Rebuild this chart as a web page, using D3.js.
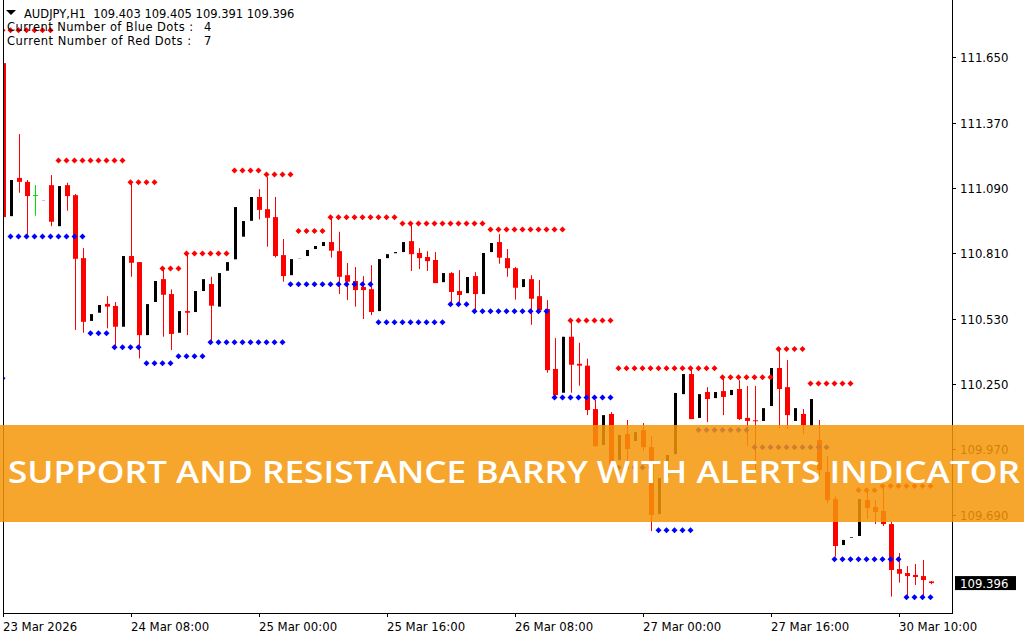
<!DOCTYPE html>
<html>
<head>
<meta charset="utf-8">
<script src="https://cdnjs.cloudflare.com/ajax/libs/d3/7.8.5/d3.min.js"></script>
<style>
  body { margin: 0; background: #fff; }
  svg  { display: block; }
  text { font-family: "DejaVu Sans Condensed", "DejaVu Sans", sans-serif; white-space: pre; }
  .info { font-family: "DejaVu Sans", sans-serif; font-size: 11.5px; }
</style>
</head>
<body>
<svg id="chart" width="1024" height="640"></svg>
<script>
// AUDJPY H1 candles
var symbol = "AUDJPY,H1";

var opens = [111.625,110.969,111.133,111.116,111.058,111.036,111.102,110.926,111.102,111.059,
  110.789,110.520,110.555,110.593,110.584,110.495,110.798,110.772,110.459,110.601,
  110.699,110.635,110.469,110.562,110.558,110.648,110.678,110.581,110.735,110.784,
  110.881,110.949,111.051,110.999,110.965,110.802,110.716,110.786,110.798,110.828,
  110.841,110.858,110.819,110.716,110.691,110.665,110.656,110.562,110.789,110.810,
  110.815,110.862,110.811,110.794,110.781,110.686,110.725,110.648,110.639,110.712,
  110.635,110.815,110.858,110.789,110.746,110.665,110.699,110.626,110.571,110.314,
  110.212,110.452,110.336,110.328,110.142,109.988,110.121,109.923,110.035,110.005,
  110.052,109.979,109.692,109.851,109.949,110.206,110.292,110.104,110.215,110.189,
  110.219,110.202,110.228,110.104,110.094,110.091,110.155,110.318,110.236,110.091,
  110.121,110.069,110.009,109.872,109.756,109.559,109.590,109.598,109.752,109.722,
  109.705,109.649,109.456,109.439,109.431,109.426,109.403];

var highs = [111.775,111.124,111.321,111.124,111.102,111.037,111.145,111.098,111.112,111.064,
  110.832,110.549,110.588,110.626,110.601,110.798,111.116,110.772,110.592,110.691,
  110.741,110.655,110.562,110.809,110.648,110.699,110.709,110.725,110.772,111.008,
  110.948,111.051,111.085,111.138,111.051,110.871,110.785,110.787,110.824,110.841,
  110.858,110.966,110.902,110.768,110.751,110.712,110.759,110.785,110.806,110.815,
  110.858,110.931,110.832,110.819,110.815,110.725,110.729,110.738,110.708,110.729,
  110.811,110.854,110.892,110.828,110.751,110.699,110.716,110.695,110.609,110.446,
  110.452,110.516,110.426,110.358,110.181,110.116,110.129,110.031,110.095,110.043,
  110.082,110.026,109.846,109.945,110.211,110.292,110.315,110.206,110.236,110.215,
  110.271,110.224,110.266,110.241,110.241,110.146,110.318,110.395,110.352,110.146,
  110.142,110.185,110.095,109.941,109.769,109.581,109.593,109.756,109.795,109.752,
  109.809,109.658,109.525,109.469,109.478,109.495,109.405];

var lows = [110.952,110.969,111.069,110.888,110.971,111.036,110.926,110.926,110.992,110.481,
  110.469,110.520,110.555,110.488,110.399,110.495,110.709,110.359,110.459,110.601,
  110.452,110.395,110.469,110.459,110.558,110.648,110.431,110.581,110.735,110.784,
  110.881,110.949,110.955,110.838,110.792,110.688,110.716,110.786,110.798,110.828,
  110.841,110.791,110.635,110.609,110.581,110.528,110.545,110.562,110.789,110.810,
  110.815,110.734,110.742,110.734,110.682,110.686,110.596,110.596,110.639,110.566,
  110.635,110.815,110.765,110.709,110.611,110.665,110.503,110.554,110.298,110.195,
  110.212,110.212,110.242,110.116,109.980,109.988,109.895,109.923,109.920,110.005,
  109.963,109.619,109.692,109.851,109.949,110.206,110.099,110.104,110.086,110.189,
  110.116,110.202,110.095,109.983,109.881,110.091,110.155,110.061,110.058,110.091,
  110.035,110.069,109.852,109.738,109.509,109.559,109.590,109.598,109.671,109.649,
  109.641,109.338,109.398,109.338,109.388,109.338,109.391];

var closes = [110.965,111.124,111.116,111.055,111.058,111.037,110.945,111.098,111.055,110.786,
  110.516,110.549,110.588,110.581,110.495,110.798,110.769,110.459,110.592,110.691,
  110.632,110.464,110.562,110.555,110.648,110.699,110.585,110.725,110.772,111.008,
  110.948,111.051,110.996,110.962,110.798,110.712,110.785,110.787,110.824,110.841,
  110.858,110.821,110.709,110.688,110.652,110.652,110.558,110.785,110.806,110.815,
  110.858,110.806,110.789,110.776,110.682,110.725,110.644,110.631,110.708,110.635,
  110.811,110.854,110.791,110.746,110.662,110.699,110.615,110.566,110.309,110.202,
  110.452,110.332,110.328,110.138,109.983,110.116,109.902,110.031,109.971,110.043,
  109.979,109.688,109.846,109.945,110.211,110.292,110.099,110.206,110.185,110.215,
  110.194,110.224,110.099,110.091,110.091,110.146,110.318,110.228,110.116,110.146,
  110.073,110.185,109.881,109.752,109.555,109.581,109.593,109.756,109.718,109.701,
  109.649,109.452,109.436,109.426,109.422,109.409,109.396];

// indicator levels: [first bar, last bar, price]
var resistance = [[0,6,111.766],[7,15,111.208],[16,19,111.114],[20,22,110.745],[23,28,110.809],
  [29,32,111.165],[33,36,111.148],[37,40,110.905],[41,49,110.964],[50,60,110.938],
  [61,70,110.912],[71,76,110.522],[77,89,110.317],[90,96,110.278],[97,100,110.399],
  [101,106,110.252],[107,109,109.794],[110,116,109.812]];

var support = [[0,0,110.274],[1,10,110.882],[11,13,110.467],[14,17,110.407],[18,21,110.338],
  [22,25,110.368],[26,35,110.428],[36,46,110.677],[47,55,110.514],[56,58,110.591],
  [59,68,110.561],[69,76,110.192],[77,81,109.892],[82,86,109.623],[87,93,110.052],
  [94,103,109.978],[104,112,109.498],[113,116,109.335]];

var priceTicks = [111.650, 111.370, 111.090, 110.810, 110.530, 110.250, 109.970, 109.690];
var timeTicks  = [0, 16, 32, 48, 64, 80, 96, 112];
var timeLabels = ["23 Mar 2026", "24 Mar 08:00", "25 Mar 00:00", "25 Mar 16:00",
                  "26 Mar 08:00", "27 Mar 00:00", "27 Mar 16:00", "30 Mar 10:00"];

var bannerTitle = "SUPPORT AND RESISTANCE BARRY WITH ALERTS INDICATOR";

var svg = d3.select("#chart");
var frame = { left: 3, right: 952, bottom: 613 };

var x = d3.scaleLinear().domain([0, opens.length - 1]).range([3.5, 3.5 + 8 * (opens.length - 1)]);
var y = d3.scaleLinear().domain([111.65, 109.69]).range([57.3, 514.5]);

var bars = opens.map(function (o, i) {
  return { i: i, o: o, h: highs[i], l: lows[i], c: closes[i] };
});

svg.append("clipPath").attr("id", "plot-clip")
   .append("rect")
   .attr("x", frame.left).attr("y", 0)
   .attr("width", frame.right - frame.left).attr("height", frame.bottom);

var plot = svg.append("g").attr("clip-path", "url(#plot-clip)");

// bear candles: red body + red wick
var bears = bars.filter(function (d) { return d.c < d.o; });
plot.selectAll(".bear-wick").data(bears).enter().append("line")
    .attr("x1", function (d) { return x(d.i); })
    .attr("x2", function (d) { return x(d.i); })
    .attr("y1", function (d) { return y(d.h); })
    .attr("y2", function (d) { return y(d.l); })
    .attr("stroke", "#ff0000");
plot.selectAll(".bear-body").data(bears).enter().append("rect")
    .attr("x", function (d) { return x(d.i) - 2.5; })
    .attr("y", function (d) { return y(d.o); })
    .attr("width", 5)
    .attr("height", function (d) { return Math.max(1, y(d.c) - y(d.o)); })
    .attr("fill", "#ff0000");

// bull candles: only the black fill shows (outline and wicks are white)
var bulls = bars.filter(function (d) { return d.c > d.o; });
plot.selectAll(".bull-body").data(bulls).enter().append("rect")
    .attr("x", function (d) { return x(d.i) - 1.5; })
    .attr("y", function (d) { return y(d.c); })
    .attr("width", 3)
    .attr("height", function (d) { return y(d.o) - y(d.c); })
    .attr("fill", "#000");

// doji candles in green
var dojis = bars.filter(function (d) { return d.c === d.o; });
plot.selectAll(".doji-wick").data(dojis).enter().append("line")
    .attr("x1", function (d) { return x(d.i); })
    .attr("x2", function (d) { return x(d.i); })
    .attr("y1", function (d) { return y(d.h); })
    .attr("y2", function (d) { return y(d.l); })
    .attr("stroke", "#00e000");
plot.selectAll(".doji-bar").data(dojis).enter().append("line")
    .attr("x1", function (d) { return x(d.i) - 2.5; })
    .attr("x2", function (d) { return x(d.i) + 2.5; })
    .attr("y1", function (d) { return Math.round(y(d.o)) + 0.5; })
    .attr("y2", function (d) { return Math.round(y(d.o)) + 0.5; })
    .attr("stroke", "#00e000");

// expand level segments into one dot per bar
function levelDots(levels) {
  var dots = [];
  levels.forEach(function (lv) {
    for (var i = lv[0]; i <= lv[1]; i++) dots.push({ i: i, p: lv[2] });
  });
  return dots;
}

function drawDots(levels, colour) {
  plot.append("g").selectAll("path").data(levelDots(levels)).enter().append("path")
      .attr("d", "M0,-3L3,0L0,3L-3,0Z")
      .attr("transform", function (d) { return "translate(" + (x(d.i) - 1) + "," + y(d.p) + ")"; })
      .attr("fill", colour);
}
drawDots(resistance, "#ff0000");
drawDots(support, "#0000ff");

// frame
svg.append("line").attr("x1", frame.left + 0.5).attr("x2", frame.left + 0.5)
   .attr("y1", 0).attr("y2", frame.bottom + 0.5).attr("stroke", "#000");
svg.append("line").attr("x1", frame.right + 0.5).attr("x2", frame.right + 0.5)
   .attr("y1", 0).attr("y2", frame.bottom + 0.5).attr("stroke", "#000");
svg.append("line").attr("x1", frame.left).attr("x2", frame.right + 1)
   .attr("y1", frame.bottom + 0.5).attr("y2", frame.bottom + 0.5).attr("stroke", "#000");

// price axis on the right
var pAxis = svg.append("g");
pAxis.selectAll("line").data(priceTicks).enter().append("line")
     .attr("x1", frame.right + 1).attr("x2", frame.right + 4)
     .attr("y1", function (d) { return Math.round(y(d)) + 0.5; })
     .attr("y2", function (d) { return Math.round(y(d)) + 0.5; })
     .attr("stroke", "#000");
pAxis.selectAll("text").data(priceTicks).enter().append("text")
     .attr("x", 960)
     .attr("y", function (d) { return y(d) + 5; })
     .attr("font-size", 13)
     .attr("fill", "#000")
     .text(function (d) { return d.toFixed(3); });

// current price tag
var last = closes[closes.length - 1];
svg.append("rect").attr("x", 955).attr("y", y(last) - 7).attr("width", 61).attr("height", 14).attr("fill", "#000");
svg.append("text").attr("x", 960).attr("y", y(last) + 5)
   .attr("font-size", 13).attr("fill", "#fff").text(last.toFixed(3));

// time axis at the bottom
var tAxis = svg.append("g");
tAxis.selectAll("line").data(timeTicks).enter().append("line")
     .attr("x1", function (d) { return Math.floor(x(d)) + 0.5; })
     .attr("x2", function (d) { return Math.floor(x(d)) + 0.5; })
     .attr("y1", frame.bottom).attr("y2", frame.bottom + 4)
     .attr("stroke", "#000");
tAxis.selectAll("text").data(timeTicks).enter().append("text")
     .attr("x", function (d) { return Math.floor(x(d)); })
     .attr("y", 630.5)
     .attr("font-size", 13)
     .attr("fill", "#000")
     .text(function (d, i) { return timeLabels[i]; });

// header and indicator counters
svg.append("path").attr("d", "M6,10L16,10L11,15Z").attr("fill", "#000");
svg.append("text").attr("class", "info").attr("x", 24).attr("y", 18).attr("fill", "#000")
   .text(symbol + "  " + [opens, highs, lows, closes].map(function (a) {
     return a[a.length - 1].toFixed(3); }).join(" "));

var lastSup = support[support.length - 1], lastRes = resistance[resistance.length - 1];
var counters = [
  { label: "Current Number of Blue Dots :", value: lastSup[1] - lastSup[0] + 1, y: 31.4, w: 186 },
  { label: "Current Number of Red Dots :",  value: lastRes[1] - lastRes[0] + 1, y: 44.8, w: 184 }
];
counters.forEach(function (c) {
  svg.append("text").attr("class", "info").attr("x", 7).attr("y", c.y)
     .attr("textLength", c.w).attr("lengthAdjust", "spacing")
     .text(c.label);
  svg.append("text").attr("class", "info").attr("x", 204).attr("y", c.y)
     .text(c.value);
});

// promo banner over the chart
svg.append("rect").attr("x", 0).attr("y", 425).attr("width", 1024).attr("height", 97)
   .attr("fill", "rgb(244,150,8)").attr("fill-opacity", 0.85);
svg.append("text")
   .attr("x", 8).attr("y", 482.5)
   .attr("textLength", 1012).attr("lengthAdjust", "spacingAndGlyphs")
   .style("font-family", "'Open Sans', 'DejaVu Sans', sans-serif")
   .style("font-weight", 600)
   .attr("font-size", 30)
   .attr("fill", "#fff")
   .text(bannerTitle);
</script>
</body>
</html>
